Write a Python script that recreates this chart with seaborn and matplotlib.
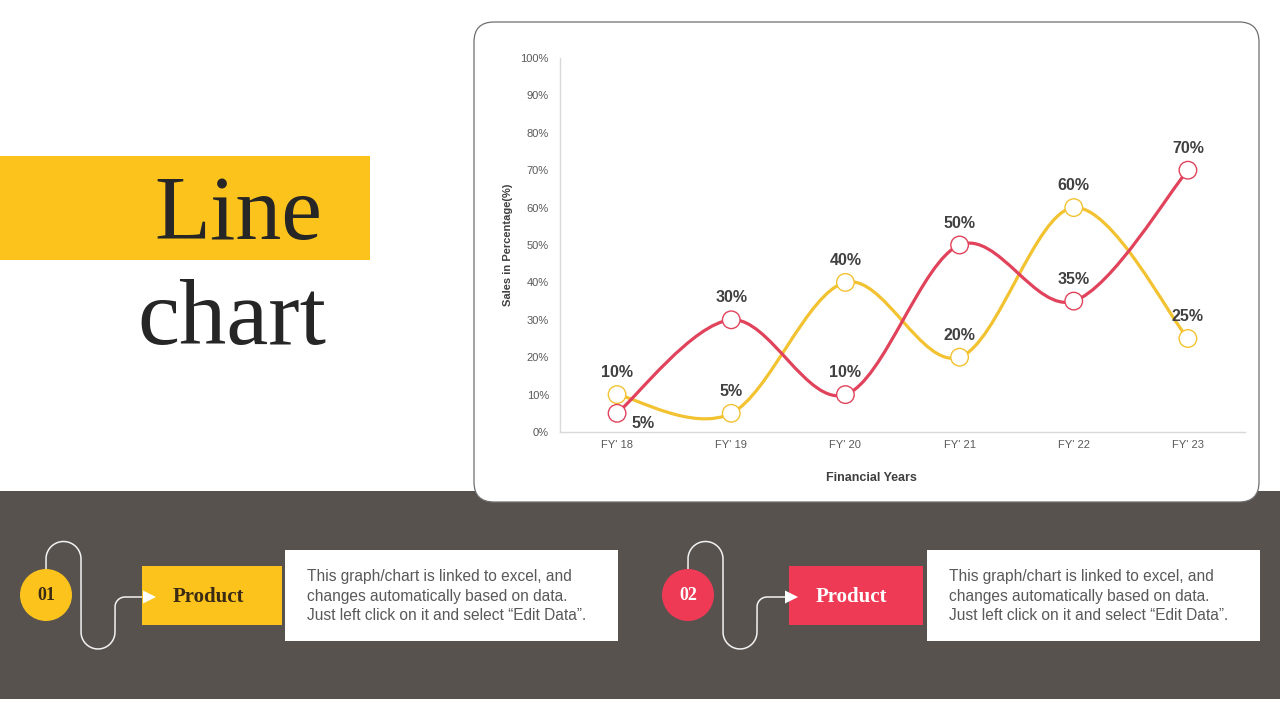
import numpy as np
import pandas as pd
import matplotlib
matplotlib.use("Agg")
import matplotlib.pyplot as plt
import seaborn as sns
from matplotlib.path import Path
from matplotlib.patches import PathPatch, Rectangle, FancyBboxPatch, Circle, Polygon

# ---------------- data ----------------
years = ["FY' 18", "FY' 19", "FY' 20", "FY' 21", "FY' 22", "FY' 23"]
product_01 = [10, 5, 40, 20, 60, 25]   # yellow
product_02 = [5, 30, 10, 50, 35, 70]   # red
y_ticks = [0, 10, 20, 30, 40, 50, 60, 70, 80, 90, 100]
title_words = ["Line", "chart"]
card_title = "Product"
card_text = ("This graph/chart is linked to excel, and\n"
             "changes automatically based on data.\n"
             "Just left click on it and select \u201cEdit Data\u201d.")

YELLOW = "#FBC31C"
YELLOW_LINE = "#F2C230"
RED = "#EF3A56"
RED_LINE = "#E0435B"
DARK = "#58524F"

df = pd.DataFrame({
    "idx": list(range(len(years))) * 2,
    "value": product_01 + product_02,
    "series": ["01"] * len(years) + ["02"] * len(years),
})

sns.set_theme(style="white")
plt.rcParams["font.family"] = ["Liberation Sans", "DejaVu Sans"]

fig = plt.figure(figsize=(12.8, 7.2), dpi=100)
fig.patch.set_facecolor("white")

# ---------------- background layer in pixel coordinates ----------------
bg = fig.add_axes([0, 0, 1, 1], zorder=0)
bg.set_xlim(0, 1280)
bg.set_ylim(720, 0)
bg.axis("off")

bg.add_patch(Rectangle((0, 156), 370, 104, color=YELLOW, lw=0))
serif = ["Liberation Serif", "DejaVu Serif"]
bg.text(154, 239, title_words[0], fontsize=66, family=serif, color="#262626",
        ha="left", va="baseline")
bg.text(137, 344, title_words[1], fontsize=68, family=serif, color="#262626",
        ha="left", va="baseline")

# dark band
bg.add_patch(Rectangle((0, 491), 1280, 208, color=DARK, lw=0))

# chart card
bg.add_patch(FancyBboxPatch((474, 22), 785, 480,
                            boxstyle="round,pad=0,rounding_size=20",
                            facecolor="white", edgecolor="#6F6F6F", lw=0.9, zorder=3))


def arc(cx, cy, r, t0, t1, n=40):
    t = np.radians(np.linspace(t0, t1, n))
    return np.column_stack([cx + r * np.cos(t), cy - r * np.sin(t)])


def group(cx, rect_x, rect_w, box_x, color, num, num_color, prod_color, prod_dx):
    pts = [np.array([[cx, 569], [cx, 559]])]
    pts.append(arc(cx + 17.5, 559, 17.5, 180, 0))
    pts.append(np.array([[cx + 35, 559], [cx + 35, 632]]))
    pts.append(arc(cx + 52, 632, 17, 180, 360))
    pts.append(np.array([[cx + 69, 632], [cx + 69, 607]]))
    pts.append(arc(cx + 79, 607, 10, 180, 90))
    pts.append(np.array([[cx + 79, 597], [cx + 100, 597]]))
    p = np.vstack(pts)
    bg.plot(p[:, 0], p[:, 1], color="#F2F2F2", lw=1.1, zorder=4)
    bg.add_patch(Rectangle((rect_x, 566), rect_w, 59, color=color, lw=0, zorder=4))
    bg.add_patch(Polygon([[cx + 97, 590.5], [cx + 110, 597], [cx + 97, 603.5]],
                         closed=True, color="white", lw=0, zorder=5))
    bg.add_patch(Circle((cx, 595), 26, color=color, lw=0, zorder=5))
    bg.text(cx, 595, num, fontsize=13, family=serif, weight="bold", color=num_color,
            ha="center", va="center", zorder=6)
    bg.text(rect_x + rect_w / 2 + prod_dx, 597, card_title, fontsize=15, family=serif,
            weight="bold", color=prod_color, ha="center", va="center", zorder=6)
    bg.add_patch(Rectangle((box_x, 550), 333, 91, color="white", lw=0, zorder=4))
    bg.text(box_x + 22, 596, card_text, fontsize=11.2, color="#595959",
            ha="left", va="center", linespacing=1.38, zorder=6)


group(46, 142, 140, 285, YELLOW, "01", "#3B2A14", "#3B2A14", -4)
group(688, 789, 134, 927, RED, "02", "white", "white", -5)

# ---------------- chart ----------------
ax = fig.add_axes([560 / 1280, 1 - 432 / 720, 685 / 1280, 374 / 720], zorder=5)
ax.set_facecolor("none")


def smooth_path(xs, ys):
    pts = np.column_stack([xs, ys]).astype(float)
    n = len(pts)
    verts = [pts[0]]
    codes = [Path.MOVETO]
    for i in range(n - 1):
        p0 = pts[i - 1] if i > 0 else pts[i]
        p1, p2 = pts[i], pts[i + 1]
        p3 = pts[i + 2] if i + 2 < n else pts[i + 1]
        verts += [p1 + (p2 - p0) / 6, p2 - (p3 - p1) / 6, p2]
        codes += [Path.CURVE4] * 3
    return Path(verts, codes)


series_style = {"01": YELLOW_LINE, "02": RED_LINE}
for s, col in series_style.items():
    sub = df[df.series == s]
    ax.add_patch(PathPatch(smooth_path(sub.idx, sub.value), fill=False,
                           edgecolor=col, lw=2.3, zorder=3, capstyle="round"))

sns.scatterplot(data=df, x="idx", y="value", hue="series", palette=series_style,
                ax=ax, s=160, facecolor="white", legend=False, zorder=5)
coll = ax.collections[-1]
edge_cols = [series_style[s] for s in df.series]
coll.set_facecolor("white")
coll.set_edgecolor(edge_cols)
coll.set_linewidth(1.0)

# data labels
label_offset = {("02", 0): (26, -10)}
for _, r in df.iterrows():
    dx, dy = label_offset.get((r.series, r.idx), (0, 22))
    ax.annotate(f"{r.value}%", (r.idx, r.value), xytext=(dx, dy),
                textcoords="offset pixels", ha="center", va="center",
                fontsize=11.5, weight="bold", color="#404040", zorder=6)

ax.set_xlim(-0.5, len(years) - 0.5)
ax.set_ylim(0, 100)
ax.set_xticks(range(len(years)))
ax.set_xticklabels(years)
ax.set_yticks(y_ticks)
ax.set_yticklabels([f"{v}%" for v in y_ticks])
ax.tick_params(axis="both", length=0, labelsize=8, labelcolor="#595959")
ax.tick_params(axis="y", pad=8)
ax.tick_params(axis="x", pad=6)
for sp in ["top", "right"]:
    ax.spines[sp].set_visible(False)
for sp in ["left", "bottom"]:
    ax.spines[sp].set_color("#D9D9D9")
    ax.spines[sp].set_linewidth(1.0)
ax.grid(False)
ax.set_ylabel("Sales in Percentage(%)", fontsize=8, weight="bold", color="#404040")
ax.set_xlabel("Financial Years", fontsize=9, weight="bold", color="#404040")
ax.yaxis.set_label_coords(-0.069, 0.5)
ax.xaxis.set_label_coords(0.455, -0.108)

fig.savefig("out.png", dpi=100)
